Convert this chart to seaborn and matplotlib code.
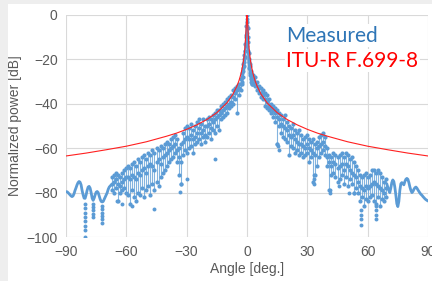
import numpy as np
import pandas as pd
import matplotlib
matplotlib.use('Agg')
import matplotlib.pyplot as plt
from matplotlib.patches import Rectangle
import seaborn as sns

# ITU-R F.699-8 reference pattern
itu_ang = [-90, -80, -70, -60, -50, -40, -35, -30, -25, -20, -15, -10, -7, -5, -4, -3, -2, -1.5, -1, -0.5, -0.25, 0,
           0.25, 0.5, 1, 1.5, 2, 3, 4, 5, 7, 10, 15, 20, 25, 30, 35, 40, 50, 60, 70, 80, 90]
itu_db = [-63.5, -62.2, -60.7, -59.1, -57.1, -54.6, -53.2, -51.5, -49.5, -47.1, -44, -39.6, -35.7, -32, -29.6, -26.5, -22.1, -19, -14.6, -7.1, -3, 0,
          -3, -7.1, -14.6, -19, -22.1, -26.5, -29.6, -32, -35.7, -39.6, -44, -47.1, -49.5, -51.5, -53.2, -54.6, -57.1, -59.1, -60.7, -62.2, -63.5]

# measured: continuous trace at the far left (-90 .. -67.5, 0.5 deg step)
edge_l_db = [-79.6, -79.6, -80, -80.5, -81, -81.5, -81.8, -81.5, -80.5, -79, -77.8, -76.5, -75.5, -75, -75.3, -76.5,
             -79, -81, -82.5, -82.6, -81, -79, -77.5, -77.2, -78, -80, -82.5, -83.5, -82.5, -81, -79.8, -79.5,
             -80, -81.5, -83, -84, -84.2, -84, -83, -82, -81, -80, -78.5, -77.5, -77, -76.5]

# measured: continuous trace at the far right (69.5 .. 90, 0.5 deg step)
edge_r_db = [-76, -77.5, -79, -80, -78, -75.5, -74.3, -75, -77.5, -81, -85, -86.3, -84, -79, -76, -75.5,
             -76, -76.5, -75, -74, -73.6, -74, -75.5, -77.5, -79, -80, -79.5, -78.5, -77.8, -77.5, -78, -78.8,
             -79.5, -80.2, -80.8, -81.2, -81.8, -82.3, -82.8, -83.2, -83.5, -83.8]

# measured: scattered part, 1 deg step, -67..-3 then 3..69 (upper / middle / lower spread)
mid_hi = [-73, -72, -71, -72, -73, -71, -70, -69, -68, -69, -67, -66, -68, -65, -66, -64, -63, -65, -62, -63, -61,
          -62, -60, -61, -59, -60, -58, -57, -58, -56, -55, -54, -56, -60, -58, -53, -51, -50, -51, -49, -52, -50,
          -48, -47, -49, -47, -50, -47, -46, -47, -45, -44, -43, -43, -41, -40, -39, -38, -37, -36, -34, -33, -32,
          -31, -29,
          -27, -28, -30, -32, -33, -34, -35, -36, -38, -40, -41, -42, -43, -44, -45, -47, -45, -48, -50, -51, -49,
          -52, -53, -52, -54, -56, -55, -54, -56, -57, -56, -58, -57, -55, -54, -53, -55, -60, -63, -64, -62, -63,
          -64, -63, -62, -64, -62, -63, -65, -64, -66, -68, -70, -72, -73, -72, -71, -73, -72, -70, -70, -71, -70,
          -71, -73, -75, -74]
mid_md = [-76, -75, -74, -76, -77, -75, -74, -73, -73, -74, -72, -73, -74, -71, -72, -70, -69, -71, -68, -67, -68,
          -70, -66, -65, -67, -64, -63, -62, -61, -60, -59, -58, -61, -64, -66, -57, -56, -55, -56, -54, -56, -55,
          -53, -51, -53, -52, -54, -50, -49, -51, -48, -47, -46, -45, -44, -43, -42, -41, -40, -39, -37, -35, -34,
          -33, -31,
          -29, -30, -32, -33, -35, -36, -38, -39, -41, -42, -43, -44, -46, -47, -49, -50, -51, -52, -54, -55, -54,
          -56, -57, -58, -58, -59, -60, -58, -60, -61, -62, -63, -60, -59, -58, -57, -59, -64, -66, -68, -66, -67,
          -69, -68, -67, -70, -67, -68, -70, -71, -72, -73, -75, -77, -78, -79, -77, -78, -77, -76, -75, -76, -77,
          -78, -79, -80, -78]
mid_lo = [-79, -80, -78, -84, -80, -79, -78, -80, -81, -85, -79, -82, -84, -80, -81, -78, -82, -79, -77, -81, -76,
          -79, -75, -77, -73, -71, -70, -68, -66, -65, -64, -62, -66, -72, -76, -63, -61, -62, -60, -59, -62, -58,
          -57, -56, -58, -55, -57, -55, -53, -56, -52, -53, -50, -52, -47, -46, -45, -44, -42, -41, -40, -38, -44,
          -36, -34,
          -31, -32, -34, -35, -37, -38, -41, -42, -43, -44, -46, -48, -58, -50, -53, -55, -56, -57, -63, -59, -60,
          -62, -61, -63, -62, -64, -63, -62, -66, -64, -75, -72, -68, -64, -62, -61, -63, -68, -79, -72, -71, -73,
          -75, -74, -72, -76, -73, -77, -74, -76, -80, -78, -80, -84, -82, -86, -83, -84, -82, -81, -84, -85, -82,
          -86, -83, -84, -82]

# measured: around the main lobe, 0.25 deg step
ctr_ang = [-2.5, -2.25, -2, -1.75, -1.5, -1.25, -1, -0.75, -0.5, -0.25, 0, 0.25, 0.5, 0.75, 1, 1.25, 1.5, 1.75, 2, 2.25, 2.5]
ctr_hi = [-28, -26, -24, -22, -20, -18, -16, -13, -10, -5, 0, -6, -12, -17, -20, -22, -23, -25, -26, -27, -28]
ctr_lo = [-31, -30, -28, -25, -23, -21, -19, -16, -14, -9, -3, -10, -16, -21, -24, -26, -27, -29, -30, -31, -31]

# measured: stray points (deep nulls and outliers)
out_ang = [-80.8, -80.8, -80.8, -80.8, -80.8, -80.8, -80.8, -80.8, -76.4, -76.4, -76.4, -76.4, -76.4,
           -72.2, -72.2, -72.2, -72.2, -72.2, -72.2, -64.5, -62, -57, -46, -33.3, -33, -29.8, -15.9,
           0, 0, 0, 0.1, 0.1,
           15, 15.3, 16, 33.5, 33.5, 33.5, 41.2, 41.2, 45.5, 50.5, 53, 56.7, 56.7, 56.7, 56.7,
           64.2, 64.2, 64.2, 64.2]
out_db = [-85, -87, -89, -91, -93, -95, -97, -100, -85, -86.5, -88, -89.5, -91,
          -86, -87.5, -89, -90.5, -92, -93.5, -84, -85, -86, -87.5, -79.6, -76, -74, -65,
          -2, -5, -8, -11, -14,
          -58, -59, -61, -72, -74, -76, -79, -80, -77, -80, -80, -88, -90, -92, -94.5,
          -86, -88, -90, -92]

blue = '#5b9bd5'
red = '#ff2020'

edge_l_ang = np.arange(-90, -67.4, 0.5)
edge_r_ang = np.arange(69.5, 90.01, 0.5)
mid_ang = list(range(-67, -2)) + list(range(3, 70))

# vertical streaks of the dense measurement between upper and lower values
streaks = pd.DataFrame({
    'ang': mid_ang + mid_ang + ctr_ang + ctr_ang,
    'db': mid_hi + mid_lo + ctr_hi + ctr_lo,
    'unit': mid_ang + mid_ang + ctr_ang + ctr_ang,
})

sns.set_style('white')
plt.rcParams['font.family'] = ['Liberation Sans', 'DejaVu Sans']

fig = plt.figure(figsize=(4.32, 2.81), dpi=100)
fig.patch.set_facecolor('white')
# light grey frame at the left and top edges
fig.patches.append(Rectangle((0, 0), 8 / 432, 1, transform=fig.transFigure,
                             facecolor='#eeeeee', edgecolor='none'))
fig.patches.append(Rectangle((0, 1 - 4 / 281), 1, 4 / 281, transform=fig.transFigure,
                             facecolor='#eeeeee', edgecolor='none'))
ax = fig.add_axes([66 / 432, 1 - 237 / 281, 362 / 432, 222 / 281])
ax.set_facecolor('white')

sns.lineplot(x=edge_l_ang, y=edge_l_db, color=blue, linewidth=2.0, ax=ax, legend=False, zorder=3)
sns.lineplot(x=edge_r_ang, y=edge_r_db, color=blue, linewidth=2.0, ax=ax, legend=False, zorder=3)

sns.lineplot(data=streaks, x='ang', y='db', units='unit', estimator=None, sort=False,
             color=blue, linewidth=0.8, alpha=0.75, ax=ax, legend=False, zorder=3)
for vals in (mid_hi, mid_md, mid_lo):
    sns.scatterplot(x=mid_ang, y=vals, color=blue, s=9, linewidth=0, ax=ax, legend=False, zorder=3)
for vals in (ctr_hi, ctr_lo):
    sns.lineplot(x=ctr_ang, y=vals, color=blue, linewidth=1.2, ax=ax, legend=False, zorder=3)
    sns.scatterplot(x=ctr_ang, y=vals, color=blue, s=9, linewidth=0, ax=ax, legend=False, zorder=3)
sns.scatterplot(x=out_ang, y=out_db, color=blue, s=8, linewidth=0, ax=ax, legend=False, zorder=3)

sns.lineplot(x=itu_ang, y=itu_db, color=red, linewidth=0.8, ax=ax, legend=False, zorder=4, sort=False)

ax.set_xlim(-90, 90)
ax.set_ylim(-100, 0)
ax.set_xticks(range(-90, 91, 30))
ax.set_yticks(range(-100, 1, 20))
ax.grid(True, color='#d9d9d9', linewidth=0.8)
ax.set_axisbelow(True)
for sp in ax.spines.values():
    sp.set_visible(False)
ax.tick_params(length=0, labelsize=10, labelcolor='#595959', pad=6)
ax.set_xlabel('Angle [deg.]', fontsize=10, color='#595959', labelpad=2)
ax.set_ylabel('Normalized power [dB]', fontsize=10, color='#595959', labelpad=3)

ax.text(0.608, 0.88, 'Measured', transform=ax.transAxes, fontsize=15, color='#2e75b6',
        family='Lato', va='baseline', zorder=5,
        bbox=dict(facecolor='white', edgecolor='none', pad=1))
ax.text(0.608, 0.767, 'ITU-R F.699-8', transform=ax.transAxes, fontsize=15, color='#ff0000',
        family='Lato', va='baseline', zorder=5,
        bbox=dict(facecolor='white', edgecolor='none', pad=1))

fig.savefig('out.png', dpi=100)
